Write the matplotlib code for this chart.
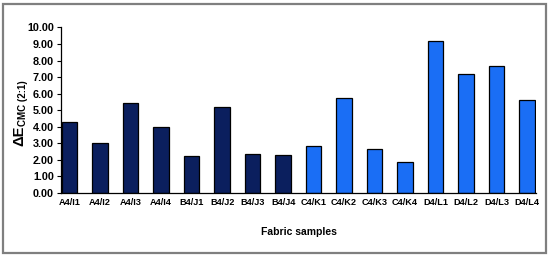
import matplotlib
matplotlib.use("Agg")
import matplotlib.pyplot as plt
from matplotlib.patches import Rectangle

plt.rcParams['font.family'] = ['Liberation Sans', 'DejaVu Sans']

categories = ["A4/I1", "A4/I2", "A4/I3", "A4/I4", "B4/J1", "B4/J2", "B4/J3", "B4/J4",
              "C4/K1", "C4/K2", "C4/K3", "C4/K4", "D4/L1", "D4/L2", "D4/L3", "D4/L4"]
values = [4.30, 3.00, 5.45, 3.96, 2.22, 5.19, 2.36, 2.30,
          2.85, 5.72, 2.63, 1.88, 9.21, 7.19, 7.70, 5.60]
groups = ["dark"] * 8 + ["light"] * 8
yticks = [0, 1, 2, 3, 4, 5, 6, 7, 8, 9, 10]

color_map = {"dark": "#0b1f5e", "light": "#1a6ef5"}

W, H = 550, 257
fig = plt.figure(figsize=(5.5, 2.57), dpi=100)
ax = fig.add_axes([0.111, 0.25, 0.864, 0.643])

x = list(range(len(categories)))
ax.bar(x, values, width=0.5, color=[color_map[g] for g in groups],
       edgecolor="black", linewidth=0.9, zorder=2)

ax.set_xlim(-0.28, 15.3)
ax.set_ylim(0, 10)
ax.set_yticks(yticks)
ax.set_yticklabels([f"{v:.2f}" for v in yticks], fontsize=7.8, fontweight="bold")
ax.set_xticks(x)
ax.set_xticklabels(categories, fontsize=6.6, fontweight="bold")
ax.tick_params(axis="x", length=0, pad=4)
ax.tick_params(axis="y", length=3, width=0.8, direction="out", pad=2)

for s in ["top", "right"]:
    ax.spines[s].set_visible(False)
for s in ["left", "bottom"]:
    ax.spines[s].set_linewidth(0.9)
    ax.spines[s].set_color("black")

ax.set_xlabel("Fabric samples", fontsize=7.5, fontweight="bold", labelpad=14)

# y label: "ΔE" with subscript "CMC (2:1)"
t1 = fig.text(23.5 / W, 1 - 146 / H, "ΔE", rotation=90, rotation_mode="anchor",
              ha="left", va="baseline", fontsize=10.5, fontweight="bold")
fig.canvas.draw()
bb = t1.get_window_extent()
top_px = bb.y1
fig.text(25.5 / W, (top_px - 0.5) / H, "CMC (2:1)", rotation=90, rotation_mode="anchor",
         ha="left", va="baseline", fontsize=7, fontweight="bold")

fig.patches.append(Rectangle((0.006, 0.016), 0.986, 0.97, transform=fig.transFigure,
                             fill=False, edgecolor="#7f7f7f", linewidth=1.6))

fig.savefig("out.png", dpi=100)
